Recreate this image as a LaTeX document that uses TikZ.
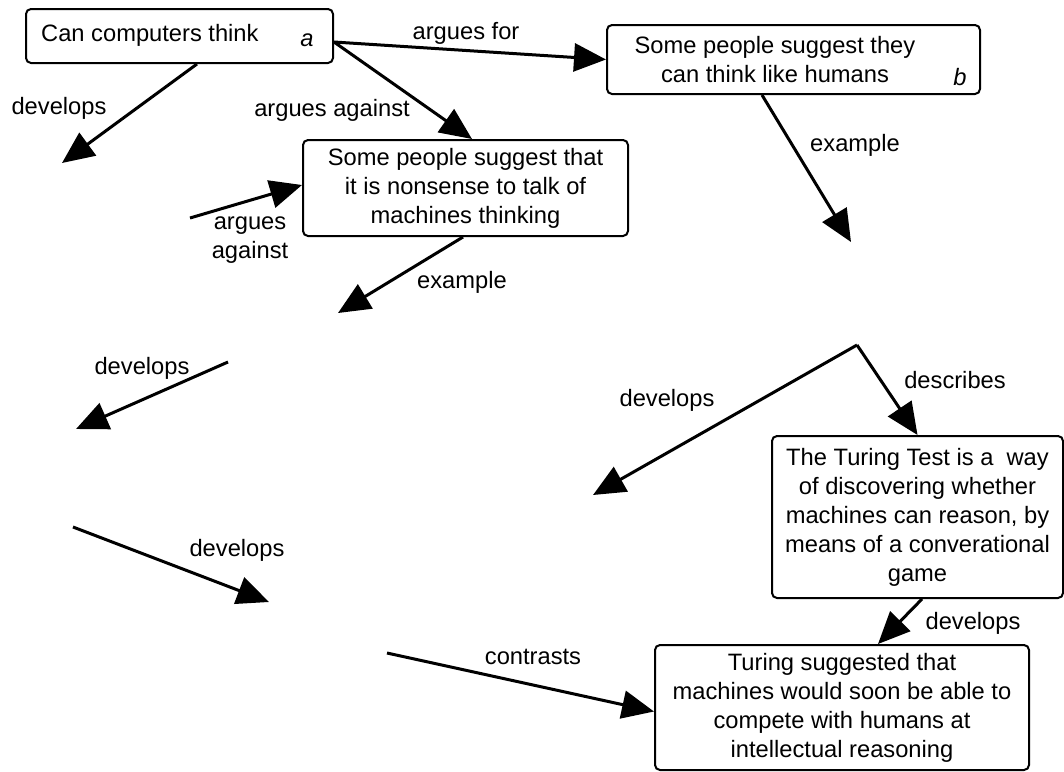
\documentclass[tikz,border=0pt]{standalone}
\usepackage{fontspec}
\setmainfont{Liberation Sans}
\usetikzlibrary{arrows.meta}
\begin{document}
\begin{tikzpicture}[x=1pt,y=-1pt,
 every node/.style={font=\fontsize{23.7}{29}\selectfont, inner sep=0pt},
 box/.style={draw, line width=2pt, rounded corners=5pt},
 conn/.style={line width=3pt, -{Triangle[length=32pt,width=28pt]}},
 lbl/.style={align=center}]
\useasboundingbox (0,0) rectangle (1064,771);
% boxes
\node[box, minimum width=307pt, minimum height=54pt] (a) at (179.5,36) {};
\node[anchor=west] (atext) at (41,35) {Can computers think};
\node (alabel) at (307,40) {\textit{a}};

\node[box, minimum width=373pt, minimum height=69pt] (b) at (793.5,59.5) {};
\node[lbl] (btext) at (775,60) {Some people suggest they\\can think like humans};
\node (blabel) at (960,77) {\textit{b}};

\node[box, lbl, minimum width=325pt, minimum height=96pt] (c) at (465.5,188)
  {Some people suggest that\\it is nonsense to talk of\\machines thinking};

\node[box, lbl, minimum width=291pt, minimum height=162pt] (d) at (917.5,517)
  {The Turing Test is a\ \ way\\of discovering whether\\machines can reason, by\\means of a converational\\game};

\node[box, lbl, minimum width=374pt, minimum height=125pt] (e) at (842,707.5)
  {Turing suggested that\\machines would soon be able to\\compete with humans at\\intellectual reasoning};

% free ends
\coordinate (devA) at (62,163);
\coordinate (lag) at (190,218);
\coordinate (exB) at (851,242);
\coordinate (exC) at (338,313);
\coordinate (dev1s) at (228,362);
\coordinate (dev1e) at (76,429);
\coordinate (dev2s) at (73,527);
\coordinate (dev2e) at (269,602);
\coordinate (contr) at (387,653);
\coordinate (apex) at (857,345);
\coordinate (devT) at (593,495);

% connectors
\draw[conn] ([xshift=17.5pt]a.south) -- (devA);
\draw[conn] ([yshift=-6pt]a.east) -- ([xshift=6.5pt]c.north);
\draw[conn] ([yshift=-6pt]a.east) -- (b.west);
\draw[conn] (lag) -- ([yshift=3pt]c.west);
\draw[conn] ([xshift=-31.5pt]b.south) -- (exB);
\draw[conn] ([xshift=-2.5pt]c.south) -- (exC);
\draw[conn] (dev1s) -- (dev1e);
\draw[conn] (dev2s) -- (dev2e);
\draw[conn] (contr) -- ([yshift=-4pt]e.west);
\draw[conn] (apex) -- (devT);
\draw[conn] (apex) -- (d.north);
\draw[conn] ([xshift=4.5pt]d.south) -- ([xshift=36pt]e.north);

% labels
\node (l1) at (59,108) {develops};
\node (l2) at (332,110) {argues against};
\node (l3) at (466,33) {argues for};
\node[lbl] (l4) at (250,240) {argues\\against};
\node (l5) at (855,145) {example};
\node (l6) at (462,282) {example};
\node (l7) at (142,368) {develops};
\node (l8) at (237,550) {develops};
\node (l9) at (533,657) {contrasts};
\node (l10) at (667,400) {develops};
\node (l11) at (955,380) {describes};
\node (l12) at (973,623) {develops};
\end{tikzpicture}
\end{document}
